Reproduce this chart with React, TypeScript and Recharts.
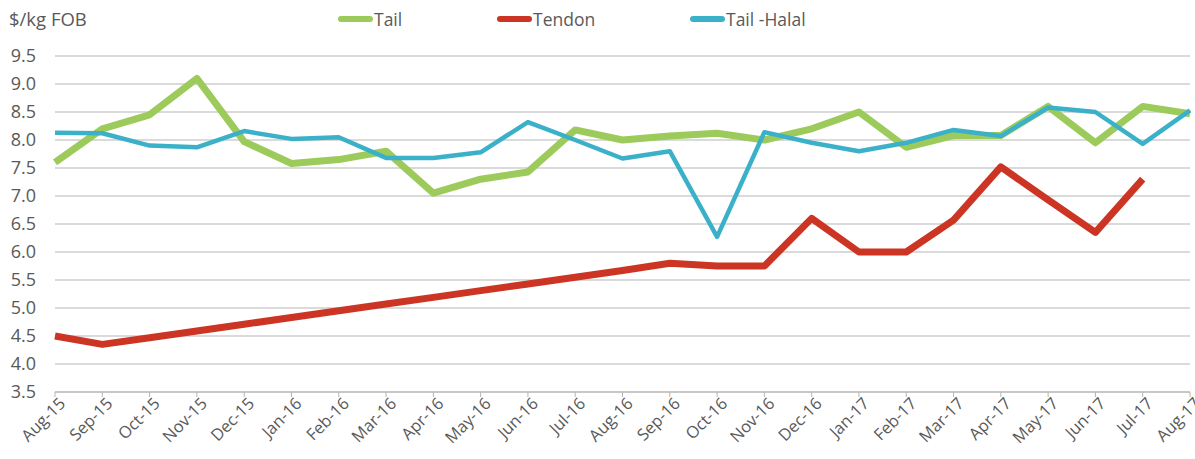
import { LineChart, Line, XAxis, YAxis, CartesianGrid } from "recharts";

const months = [
  "Aug-15", "Sep-15", "Oct-15", "Nov-15", "Dec-15", "Jan-16", "Feb-16", "Mar-16", "Apr-16",
  "May-16", "Jun-16", "Jul-16", "Aug-16", "Sep-16", "Oct-16", "Nov-16", "Dec-16", "Jan-17",
  "Feb-17", "Mar-17", "Apr-17", "May-17", "Jun-17", "Jul-17", "Aug-17",
];

const tail = [
  7.6, 8.2, 8.45, 9.1, 7.97, 7.58, 7.65, 7.8, 7.05, 7.3, 7.43, 8.18, 8.0, 8.07, 8.12, 8.0,
  8.2, 8.5, 7.87, 8.08, 8.08, 8.6, 7.95, 8.6, 8.47,
];

const tendon = [
  4.5, 4.35, 4.47, 4.59, 4.71, 4.83, 4.95, 5.07, 5.19, 5.31, 5.43, 5.55, 5.67, 5.8, 5.75, 5.75,
  6.6, 6.0, 6.0, 6.57, 7.52, 6.93, 6.35, 7.3, null,
];

const tailHalal = [
  8.13, 8.12, 7.9, 7.87, 8.16, 8.02, 8.05, 7.68, 7.68, 7.78, 8.32, 8.0, 7.67, 7.8, 6.27, 8.14,
  7.95, 7.8, 7.95, 8.18, 8.07, 8.58, 8.5, 7.93, 8.53,
];

const yTicks = [3.5, 4.0, 4.5, 5.0, 5.5, 6.0, 6.5, 7.0, 7.5, 8.0, 8.5, 9.0, 9.5];

const series = [
  { key: "tail", name: "Tail", color: "#9ccb5b", width: 7, left: 338 },
  { key: "tendon", name: "Tendon", color: "#cc3524", width: 7, left: 497 },
  { key: "tailHalal", name: "Tail -Halal", color: "#3bb1c9", width: 4.5, left: 690 },
];

const FONT = "'Open Sans', sans-serif";
const TEXT = "#595959";

const data = months.map((m, i) => ({
  month: m,
  tail: tail[i],
  tendon: tendon[i],
  tailHalal: tailHalal[i],
}));

function MonthTick({ x, y, payload }: any) {
  return (
    <text
      x={x}
      y={y}
      dx={4}
      dy={12}
      textAnchor="end"
      fontSize={16.5}
      fontFamily={FONT}
      fill={TEXT}
      transform={`rotate(-45, ${x}, ${y})`}
    >
      {payload.value}
    </text>
  );
}

export default function App() {
  return (
    <div style={{ position: "absolute", left: 0, top: 0, width: 1195, height: 459, background: "#fff" }}>
      <div style={{ position: "absolute", left: 9, top: 6, fontFamily: FONT, fontSize: 18.5, color: TEXT }}>
        $/kg FOB
      </div>
      {/* legend drawn on top, same spots as the original */}
      {series.map((s) => (
        <div
          key={s.key}
          style={{
            position: "absolute",
            left: s.left,
            top: 7,
            display: "flex",
            alignItems: "center",
            fontFamily: FONT,
            fontSize: 17.5,
            color: TEXT,
          }}
        >
          <span
            style={{
              display: "inline-block",
              width: 35,
              height: 6,
              borderRadius: 3,
              background: s.color,
              marginRight: 1,
            }}
          />
          <span>{s.name}</span>
        </div>
      ))}
      <LineChart width={1195} height={459} data={data} margin={{ top: 56, right: 5, left: 0, bottom: 0 }}>
        <CartesianGrid vertical={false} stroke="#b5b5b5" strokeWidth={1.2} />
        <XAxis
          dataKey="month"
          interval={0}
          height={67}
          tick={<MonthTick />}
          tickSize={5}
          stroke="#b5b5b5"
          tickLine={{ stroke: "#b5b5b5" }}
        />
        <YAxis
          domain={[3.5, 9.5]}
          ticks={yTicks}
          width={55}
          axisLine={false}
          tickLine={false}
          tickSize={0}
          tickMargin={19}
          tickFormatter={(v: number) => v.toFixed(1)}
          tick={{ fontSize: 18, fontFamily: FONT, fill: TEXT }}
        />
        {series.map((s) => (
          <Line
            key={s.key}
            type="linear"
            dataKey={s.key}
            name={s.name}
            stroke={s.color}
            strokeWidth={s.width}
            dot={false}
            strokeLinejoin="round"
            isAnimationActive={false}
          />
        ))}
      </LineChart>
    </div>
  );
}
